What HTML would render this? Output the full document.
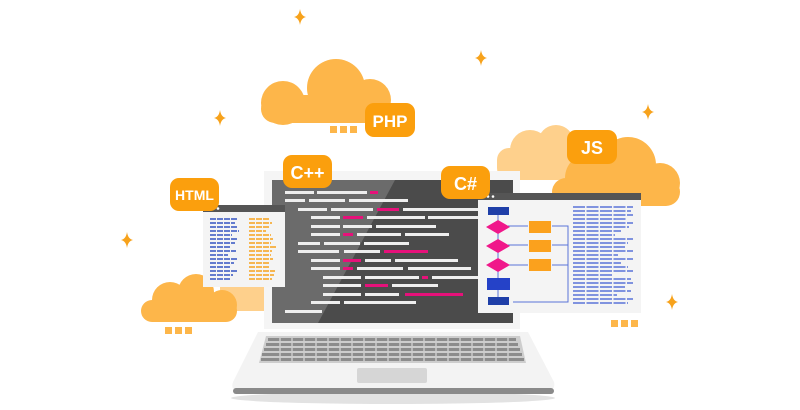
<!DOCTYPE html>
<html><head><style>body{margin:0;background:#fff}svg{display:block}text{font-family:"Liberation Sans",sans-serif;font-weight:bold;fill:#fff}</style></head><body>
<svg width="800" height="410" viewBox="0 0 800 410" xmlns="http://www.w3.org/2000/svg">
<defs><g id="sp"><path d="M0,-8 Q1,-1 6,0 Q1,1 0,8 Q-1,1 -6,0 Q-1,-1 0,-8Z" fill="#f7a21b"/></g></defs>
<use href="#sp" x="300" y="17"/><use href="#sp" x="481" y="58"/><use href="#sp" x="648" y="112"/><use href="#sp" x="220" y="118"/><use href="#sp" x="127" y="240"/><use href="#sp" x="672" y="302"/>
<!-- PHP cloud -->
<g fill="#fdb64a"><circle cx="283" cy="103" r="22"/><circle cx="336" cy="88" r="29"/><circle cx="370" cy="100" r="21"/><rect x="261" y="95" width="128" height="28" rx="14"/></g>
<g fill="#fdb64a"><rect x="330" y="126" width="7" height="7"/><rect x="340" y="126" width="7" height="7"/><rect x="350" y="126" width="7" height="7"/></g>
<!-- JS clouds -->
<g fill="#fed08c"><circle cx="530" cy="150" r="20"/><circle cx="556" cy="143" r="18"/><rect x="497" y="148" width="90" height="32" rx="12"/></g>
<g fill="#fdb64a"><circle cx="590" cy="178" r="25"/><circle cx="628" cy="165" r="28"/><circle cx="660" cy="183" r="20"/><rect x="552" y="178" width="128" height="28" rx="14"/></g>
<g fill="#fdb64a"><rect x="611" y="320" width="7" height="7"/><rect x="621" y="320" width="7" height="7"/><rect x="631" y="320" width="7" height="7"/></g>
<!-- left cloud -->
<rect x="220" y="285" width="50" height="26" fill="#fed08c"/>
<g fill="#fdb64a"><circle cx="170" cy="300" r="18"/><circle cx="196" cy="292" r="18"/><circle cx="222" cy="305" r="15"/><rect x="141" y="300" width="96" height="22" rx="11"/></g>
<g fill="#fdb64a"><rect x="165" y="327" width="7" height="7"/><rect x="175" y="327" width="7" height="7"/><rect x="185" y="327" width="7" height="7"/></g>
<!-- laptop base -->
<ellipse cx="393" cy="398" rx="162" ry="6" fill="#e2e2e2"/>
<path d="M258,332 L528,332 L554,382 Q556,391 546,391 L240,391 Q230,391 233,382Z" fill="#f3f3f3"/>
<rect x="233" y="388" width="321" height="6" rx="3" fill="#8a8a8a"/>
<path d="M266,336 L520,336 L526,363 L259,363Z" fill="#cdcdcd"/>
<g fill="#8c8c8c">
<rect x="268" y="338" width="248" height="3"/><rect x="266" y="343" width="252" height="3"/><rect x="264" y="348" width="256" height="3"/><rect x="262" y="353" width="260" height="3"/><rect x="261" y="358" width="263" height="3"/></g>
<g stroke="#cdcdcd" stroke-width="1.4">
<path d="M280,337V362M292,337V362M304,337V362M316,337V362M328,337V362M340,337V362M352,337V362M364,337V362M376,337V362M388,337V362M400,337V362M412,337V362M424,337V362M436,337V362M448,337V362M460,337V362M472,337V362M484,337V362M496,337V362M508,337V362"/></g>
<rect x="357" y="368" width="70" height="15" rx="2" fill="#d6d6d6"/>
<!-- screen -->
<rect x="264" y="171" width="256" height="158" fill="#f5f5f5"/>
<rect x="272" y="180" width="241" height="143" fill="#4b4b4b"/>
<path d="M272,180 L395,180 L318,323 L272,323Z" fill="#6b6b6b"/>
<g fill="#eee">
<rect x="285" y="191" width="29" height="3"/><rect x="317" y="191" width="50" height="3"/>
<rect x="285" y="199" width="20" height="3"/><rect x="309" y="199" width="36" height="3"/><rect x="349" y="199" width="59" height="3"/>
<rect x="298" y="208" width="29" height="3"/><rect x="331" y="208" width="42" height="3"/><rect x="403" y="208" width="75" height="3"/>
<rect x="311" y="216" width="29" height="3"/><rect x="367" y="216" width="58" height="3"/><rect x="428" y="216" width="50" height="3"/>
<rect x="311" y="225" width="29" height="3"/><rect x="343" y="225" width="29" height="3"/><rect x="376" y="225" width="60" height="3"/>
<rect x="311" y="233" width="29" height="3"/><rect x="357" y="233" width="44" height="3"/><rect x="405" y="233" width="44" height="3"/>
<rect x="298" y="242" width="22" height="3"/><rect x="324" y="242" width="36" height="3"/><rect x="364" y="242" width="45" height="3"/>
<rect x="298" y="250" width="41" height="3"/><rect x="344" y="250" width="36" height="3"/>
<rect x="311" y="259" width="29" height="3"/><rect x="365" y="259" width="26" height="3"/><rect x="395" y="259" width="63" height="3"/>
<rect x="311" y="267" width="29" height="3"/><rect x="357" y="267" width="46" height="3"/><rect x="408" y="267" width="63" height="3"/>
<rect x="323" y="276" width="38" height="3"/><rect x="365" y="276" width="54" height="3"/><rect x="432" y="276" width="50" height="3"/>
<rect x="323" y="284" width="38" height="3"/><rect x="392" y="284" width="46" height="3"/>
<rect x="323" y="293" width="38" height="3"/><rect x="365" y="293" width="34" height="3"/>
<rect x="311" y="301" width="29" height="3"/><rect x="344" y="301" width="72" height="3"/>
<rect x="285" y="310" width="37" height="3"/></g>
<g fill="#e6117a">
<rect x="370" y="191" width="8" height="3"/><rect x="377" y="208" width="22" height="3"/><rect x="343" y="216" width="20" height="3"/><rect x="343" y="233" width="10" height="3"/><rect x="384" y="250" width="44" height="3"/><rect x="343" y="259" width="18" height="3"/><rect x="343" y="267" width="10" height="3"/><rect x="422" y="276" width="6" height="3"/><rect x="365" y="284" width="23" height="3"/><rect x="405" y="293" width="58" height="3"/></g>
<!-- left window -->
<rect x="203" y="205" width="82" height="82" fill="#f4f4f4"/>
<rect x="203" y="205" width="82" height="7" fill="#555"/>
<g fill="#fff"><circle cx="208" cy="208.5" r="1.3"/><circle cx="213" cy="208.5" r="1.3"/><circle cx="218" cy="208.5" r="1.3"/></g>
<g stroke="#3353c2" stroke-width="1.5" stroke-dasharray="6 1">
<path d="M210,219h27M210,223h25M210,227h27M210,231h29M210,235h22M210,239h28M210,243h25M210,247h20M210,251h26M210,255h18M210,259h28M210,263h24M210,267h21M210,271h27M210,275h23M210,279h20"/></g>
<g stroke="#f7a21b" stroke-width="1.5" stroke-dasharray="6 1">
<path d="M249,219h20M249,223h23M249,227h21M249,231h17M249,235h22M249,239h24M249,243h22M249,247h28M249,251h23M249,255h22M249,259h24M249,263h21M249,267h20M249,271h26M249,275h25M249,279h23"/></g>
<!-- right window -->
<rect x="478" y="193" width="163" height="120" fill="#f4f4f4"/>
<rect x="478" y="193" width="163" height="7" fill="#555"/>
<g fill="#fff"><circle cx="483" cy="196.5" r="1.3"/><circle cx="488" cy="196.5" r="1.3"/><circle cx="493" cy="196.5" r="1.3"/></g>
<g stroke="#5a73d8" stroke-width="1" fill="none">
<path d="M498,214V300M508,226h20M508,245h20M508,265h20M552,226h16V302H513M552,245h16M552,265h16"/></g>
<rect x="488" y="207" width="21" height="8" fill="#1f3fa8"/>
<g fill="#f0178a"><path d="M486,227l12,-7 12,7 -12,7z"/><path d="M486,246l12,-7 12,7 -12,7z"/><path d="M486,265l12,-7 12,7 -12,7z"/></g>
<g fill="#fba11d"><rect x="529" y="221" width="22" height="12"/><rect x="529" y="240" width="22" height="12"/><rect x="529" y="259" width="22" height="12"/></g>
<rect x="487" y="278" width="23" height="12" fill="#2542c8"/>
<rect x="488" y="297" width="21" height="8" fill="#1f3fa8"/>
<g stroke="#5a73d8" stroke-width="1.6" stroke-dasharray="12 1.5">
<path d="M573,207h60M573,211h58M573,215h60M573,219h54M573,223h60M573,227h56M573,231h48M573,235h42M573,239h60M573,243h55M573,247h52M573,251h60M573,255h45M573,259h60M573,263h48M573,267h55M573,271h60M573,275h40M573,279h58M573,283h60M573,287h52M573,291h58M573,295h44M573,299h60M573,303h55"/></g>
<!-- badges -->
<g fill="#fb9f0d">
<rect x="365" y="103" width="50" height="34" rx="9"/><rect x="283" y="155" width="49" height="33" rx="9"/><rect x="441" y="166" width="49" height="33" rx="9"/><rect x="567" y="130" width="50" height="34" rx="9"/><rect x="170" y="178" width="49" height="33" rx="9"/></g>
<text x="390" y="127" font-size="17" text-anchor="middle">PHP</text>
<text x="307.5" y="179" font-size="18" text-anchor="middle">C++</text>
<text x="465.5" y="190" font-size="18" text-anchor="middle">C#</text>
<text x="592" y="154" font-size="18" text-anchor="middle">JS</text>
<text x="194.5" y="200" font-size="14" text-anchor="middle">HTML</text>
</svg>
</body></html>
